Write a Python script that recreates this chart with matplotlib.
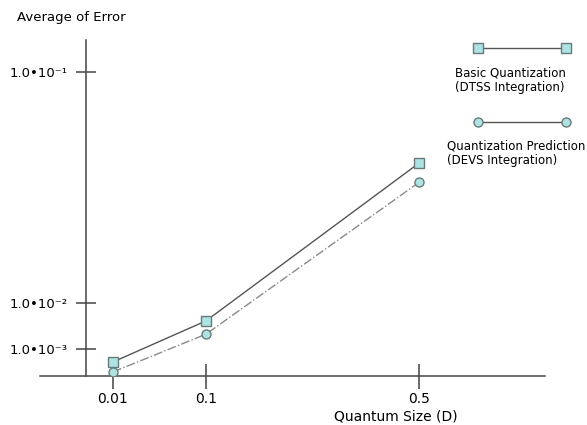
import numpy as np
import matplotlib
matplotlib.use("Agg")
import matplotlib.pyplot as plt
from matplotlib.lines import Line2D

# ---- data ----
quantum = [0.01, 0.1, 0.5]
err_basic = [5.2e-4, 6.5e-3, 6.45e-2]      # Basic Quantization (DTSS)
err_pred = [1.5e-4, 3.9e-3, 5.7e-2]        # Quantization Prediction (DEVS)

x_ticks = [0.01, 0.1, 0.5]
x_ticklabels = ["0.01", "0.1", "0.5"]
y_ticks = [1e-3, 1e-2, 1e-1]
y_ticklabels = ["1.0•10⁻³", "1.0•10⁻²", "1.0•10⁻¹"]

# the original axes are hand-drawn and neither linear nor log:
# piecewise-linear scales anchored at the tick values
X_VAL = [-1.0, 0.0, 0.01, 0.1, 0.5, 2.0]
X_POS = [-2614.0, 0.0, 27.0, 120.0, 333.0, 1131.75]
Y_VAL = [-1.0, 0.0, 1e-3, 1e-2, 1e-1, 1.0]
Y_POS = [-27000.0, 0.0, 27.0, 73.0, 304.0, 2614.0]


def fwd(val, pos):
    return lambda v: np.interp(v, val, pos)


def inv(val, pos):
    return lambda p: np.interp(p, pos, val)


FACE = "#ade3e3"
EDGE = "#6a7a7a"

fig = plt.figure(figsize=(5.87, 4.25), dpi=100)
fig.patch.set_facecolor("white")
ax = fig.add_axes([40 / 587, 49 / 425, 505 / 587, 336 / 425])

ax.set_xscale("function", functions=(fwd(X_VAL, X_POS), inv(X_VAL, X_POS)))
ax.set_yscale("function", functions=(fwd(Y_VAL, Y_POS), inv(Y_VAL, Y_POS)))
ax.set_xlim(inv(X_VAL, X_POS)(-46.0), inv(X_VAL, X_POS)(459.0))
ax.set_ylim(0, inv(Y_VAL, Y_POS)(336.0))

ax.plot(quantum, err_basic, color="#555555", lw=1.0, ls="-",
        marker="s", ms=7, mfc=FACE, mec=EDGE, mew=1.0, zorder=3)
ax.plot(quantum, err_pred, color="#8a8a8a", lw=1.0, ls="-.",
        marker="o", ms=6.5, mfc=FACE, mec=EDGE, mew=1.0, zorder=3)

for s in ("top", "right"):
    ax.spines[s].set_visible(False)
ax.spines["left"].set_position(("data", 0.0))
for s in ("left", "bottom"):
    ax.spines[s].set_color("#444444")
    ax.spines[s].set_linewidth(1.1)

ax.set_xticks(x_ticks)
ax.set_xticklabels(x_ticklabels)
ax.set_yticks(y_ticks)
ax.set_yticklabels(y_ticklabels)
ax.minorticks_off()
ax.tick_params(axis="x", direction="inout", length=18, width=1.1,
               color="#444444", labelsize=10, pad=2.5)
ax.tick_params(axis="y", direction="inout", length=14, width=1.1,
               color="#444444", labelsize=9.5, pad=6.5)

fig.text(17 / 587, 1 - 17 / 425, "Average of Error", fontsize=9.5,
         ha="left", va="center")
fig.text(396 / 587, 1 - 417 / 425, "Quantum Size (D)", fontsize=10,
         ha="center", va="center")

# legend, drawn by hand (marker - line - marker above the label)
def legend_item(y, marker, label, tx, ty, ha):
    fig.add_artist(Line2D([478 / 587, 566 / 587], [1 - y / 425] * 2,
                          transform=fig.transFigure, color="#555555",
                          lw=1.0, marker=marker, ms=7 if marker == "s" else 6.5,
                          mfc=FACE, mec=EDGE, mew=1.0))
    fig.text(tx / 587, 1 - ty / 425, label, fontsize=8.5, ha=ha,
             va="center", linespacing=1.15)

legend_item(48, "s", "Basic Quantization\n(DTSS Integration)", 510, 80, "center")
legend_item(122, "o", "Quantization Prediction\n(DEVS Integration)", 447, 153, "left")

fig.savefig("out.png", dpi=100, facecolor="white")
